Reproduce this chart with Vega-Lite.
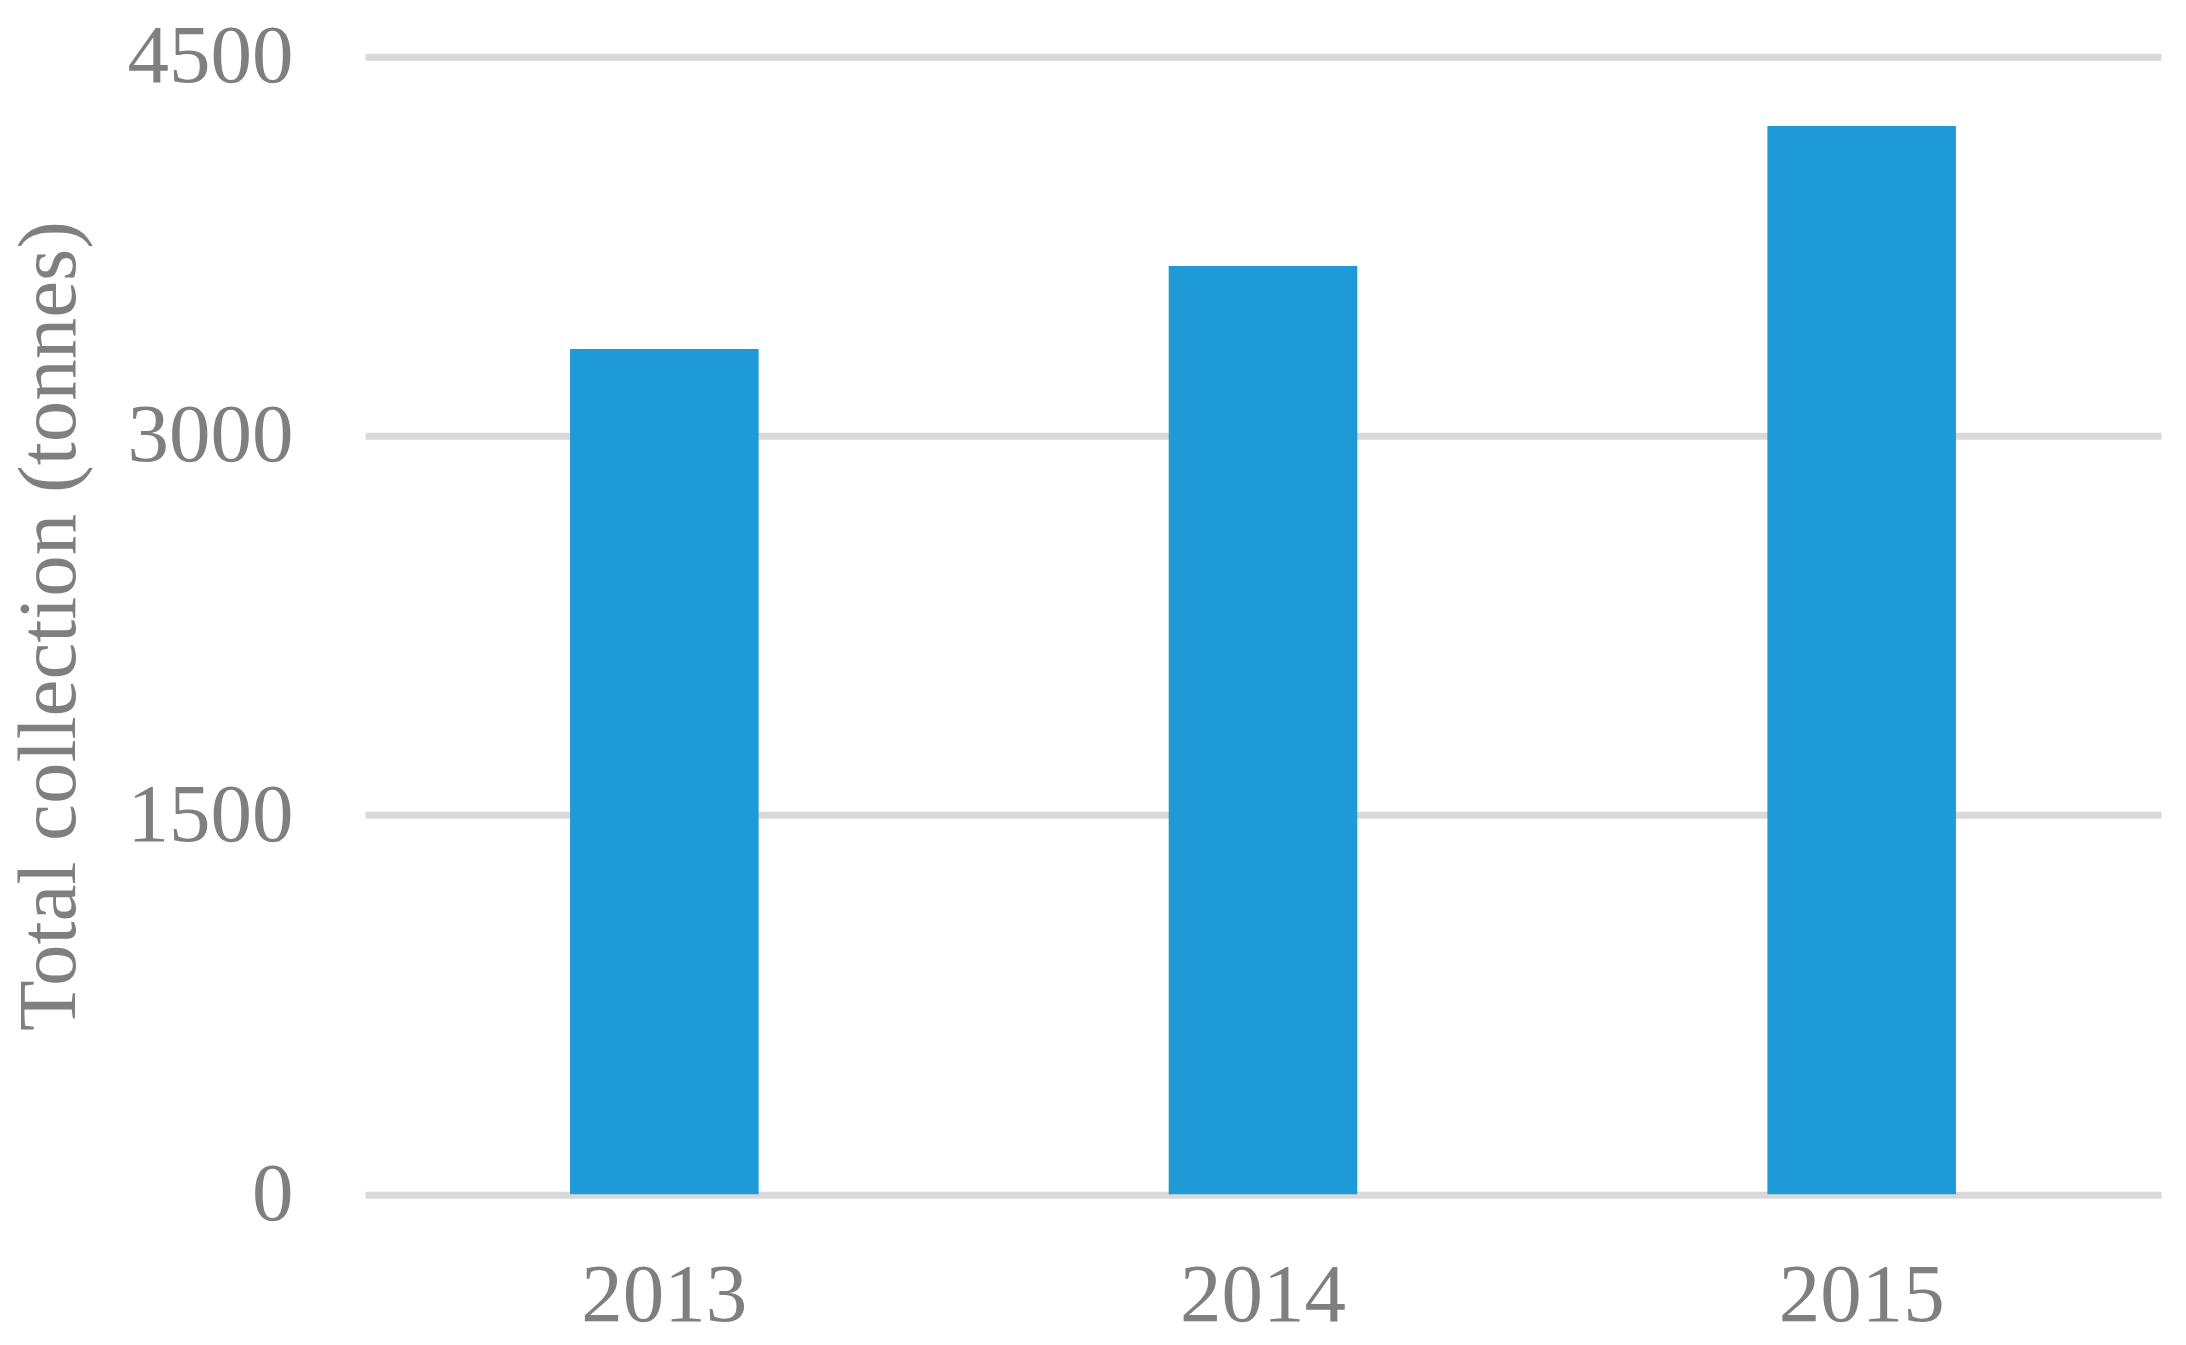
{
  "$schema": "https://vega.github.io/schema/vega-lite/v6.json",
  "autosize": "none",
  "width": 1796,
  "height": 1137.6,
  "padding": {"left": 365, "top": 56.7, "right": 25, "bottom": 151},
  "background": "white",
  "config": {
    "view": {"stroke": null},
    "font": "Liberation Serif"
  },
  "data": {
    "values": [
      {"year": "2013", "collection": 3344},
      {"year": "2014", "collection": 3672},
      {"year": "2015", "collection": 4226}
    ]
  },
  "mark": {"type": "bar", "color": "#1E9BD7"},
  "encoding": {
    "x": {
      "field": "year",
      "type": "nominal",
      "scale": {"paddingInner": 0.685, "paddingOuter": 0.3425},
      "axis": {
        "title": null,
        "labelAngle": 0,
        "labelFont": "Liberation Serif",
        "labelFontSize": 83,
        "labelColor": "#7f7f7f",
        "labelPadding": 60,
        "ticks": false,
        "tickSize": 0,
        "domain": false,
        "grid": false
      }
    },
    "y": {
      "field": "collection",
      "type": "quantitative",
      "scale": {"domain": [0, 4500], "nice": false},
      "axis": {
        "values": [0, 1500, 3000, 4500],
        "format": "d",
        "labelLimit": 0,
        "title": "Total collection (tonnes)",
        "titleFont": "Liberation Serif",
        "titleFontSize": 83,
        "titleFontWeight": "normal",
        "titleColor": "#7f7f7f",
        "titlePadding": 74,
        "labelFont": "Liberation Serif",
        "labelFontSize": 83,
        "labelColor": "#7f7f7f",
        "labelPadding": 72,
        "ticks": false,
        "tickSize": 0,
        "domain": false,
        "grid": true,
        "gridColor": "#d9d9d9",
        "gridWidth": 7,
        "gridOpacity": 1
      }
    }
  }
}
